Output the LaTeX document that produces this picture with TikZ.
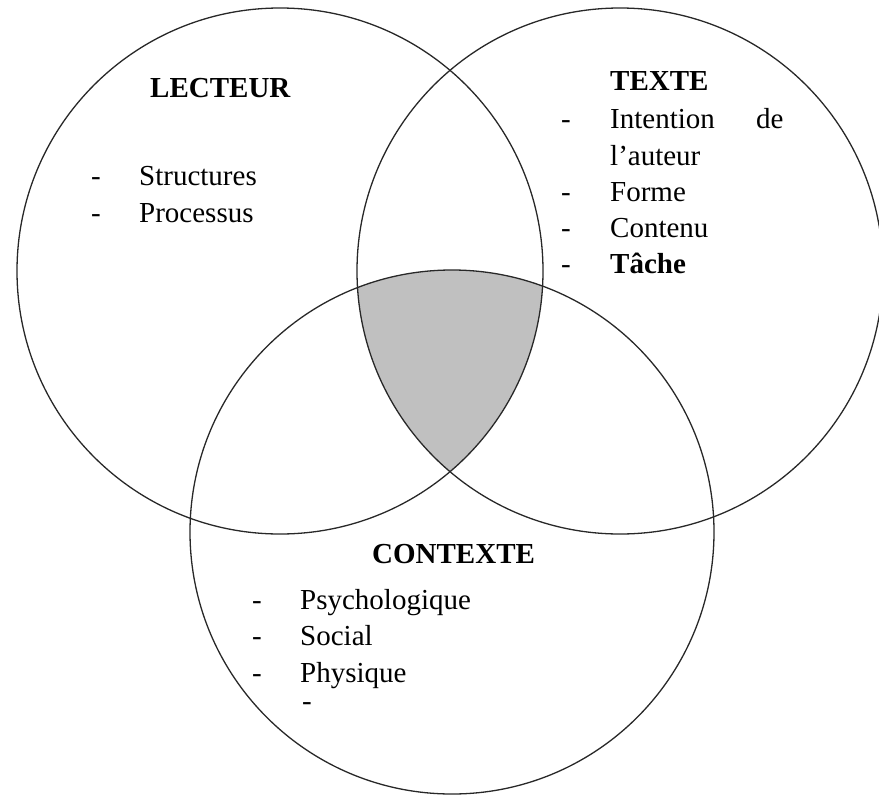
\documentclass[tikz,border=0pt]{standalone}
\usepackage{fontspec}
\setmainfont{Liberation Serif}
\definecolor{ringline}{RGB}{40,40,40}
\definecolor{overlap}{RGB}{192,192,192}
\begin{document}
\begin{tikzpicture}[x=1pt,y=-1pt,
  ring/.style={circle, draw=ringline, line width=1.3pt, inner sep=0pt, minimum size=#1},
  item/.style={anchor=base west, inner sep=0pt, font=\fontsize{29}{34}\selectfont},
  heading/.style={anchor=base west, inner sep=0pt, font=\fontsize{29}{34}\selectfont\bfseries}]
\useasboundingbox (0,0) rectangle (879,796);

% centres of the three sets
\coordinate (cL) at (280,271);
\coordinate (cT) at (620,271);
\coordinate (cC) at (452,532);

% shaded common region of all three sets
\begin{scope}
  \clip (cL) circle[radius=263pt];
  \clip (cT) circle[radius=263pt];
  \fill[overlap] (cC) circle[radius=262pt];
\end{scope}

% the three circles
\node[ring=526pt] (lecteur) at (cL) {};
\node[ring=526pt] (texte) at (cT) {};
\node[ring=524pt] (contexte) at (cC) {};

% LECTEUR
\node[heading] (hL) at (150,97) {LECTEUR};
\node[item] (dL1) at (91,185) {-};
\node[item] (tL1) at (139,185) {Structures};
\node[item] (dL2) at (91,222) {-};
\node[item] (tL2) at (139,222) {Processus};

% TEXTE
\node[heading] (hT) at (610,90) {TEXTE};
\node[item] (dT1) at (561,128) {-};
\node[item] (tT1) at (610,128) {Intention};
\node[item] (tT1b) at (756,128) {de};
\node[item] (tT1c) at (610,165) {l’auteur};
\node[item] (dT2) at (561,201) {-};
\node[item] (tT2) at (610,201) {Forme};
\node[item] (dT3) at (561,237) {-};
\node[item] (tT3) at (610,237) {Contenu};
\node[item] (dT4) at (561,273) {-};
\node[item,font=\fontsize{29}{34}\selectfont\bfseries] (tT4) at (610,273) {Tâche};

% CONTEXTE
\node[heading] (hC) at (372,563) {CONTEXTE};
\node[item] (dC1) at (252,609) {-};
\node[item] (tC1) at (300,609) {Psychologique};
\node[item] (dC2) at (252,645) {-};
\node[item] (tC2) at (300,645) {Social};
\node[item] (dC3) at (252,682) {-};
\node[item] (tC3) at (300,682) {Physique};
\node[item, text height=0.27em, text depth=0pt] (dC4) at (302,710) {-};
\end{tikzpicture}
\end{document}
